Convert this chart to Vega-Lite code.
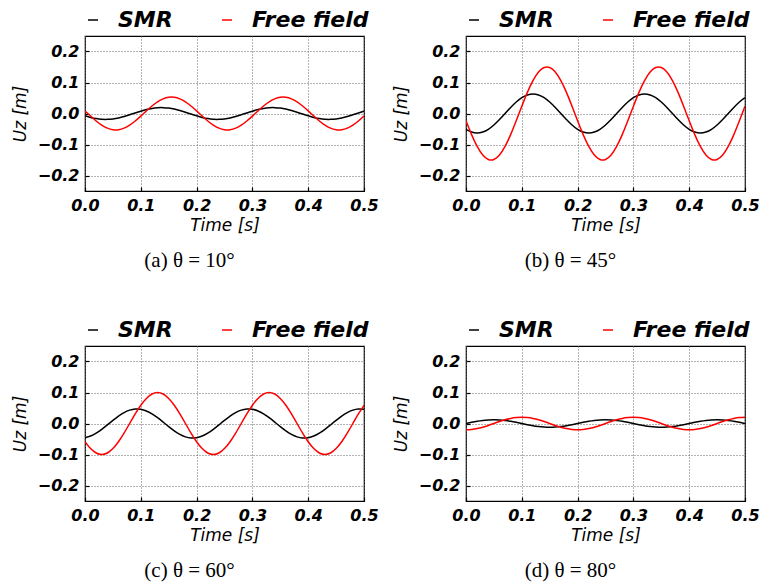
{
"$schema":"https://vega.github.io/schema/vega-lite/v6.json",
"padding":{"left":10,"top":8,"right":5,"bottom":5},
"background":"white",
"datasets":{
"a":[
{"t":0,"SMR":-0.0075,"Free field":0.0083},{"t":0.01,"SMR":-0.0126,"Free field":-0.0083},{"t":0.02,"SMR":-0.0164,"Free field":-0.0241},{"t":0.03,"SMR":-0.0185,"Free field":-0.0375},{"t":0.04,"SMR":-0.0189,"Free field":-0.0472},{"t":0.05,"SMR":-0.0174,"Free field":-0.0524},{"t":0.06,"SMR":-0.0143,"Free field":-0.0524},{"t":0.07,"SMR":-0.0097,"Free field":-0.0472},{"t":0.08,"SMR":-0.0041,"Free field":-0.0375},{"t":0.09,"SMR":0.0018,"Free field":-0.0241},
{"t":0.1,"SMR":0.0075,"Free field":-0.0083},{"t":0.11,"SMR":0.0126,"Free field":0.0083},{"t":0.12,"SMR":0.0164,"Free field":0.0241},{"t":0.13,"SMR":0.0185,"Free field":0.0375},{"t":0.14,"SMR":0.0189,"Free field":0.0472},{"t":0.15,"SMR":0.0174,"Free field":0.0524},{"t":0.16,"SMR":0.0143,"Free field":0.0524},{"t":0.17,"SMR":0.0097,"Free field":0.0472},{"t":0.18,"SMR":0.0041,"Free field":0.0375},{"t":0.19,"SMR":-0.0018,"Free field":0.0241},
{"t":0.2,"SMR":-0.0075,"Free field":0.0083},{"t":0.21,"SMR":-0.0126,"Free field":-0.0083},{"t":0.22,"SMR":-0.0164,"Free field":-0.0241},{"t":0.23,"SMR":-0.0185,"Free field":-0.0375},{"t":0.24,"SMR":-0.0189,"Free field":-0.0472},{"t":0.25,"SMR":-0.0174,"Free field":-0.0524},{"t":0.26,"SMR":-0.0143,"Free field":-0.0524},{"t":0.27,"SMR":-0.0097,"Free field":-0.0472},{"t":0.28,"SMR":-0.0041,"Free field":-0.0375},{"t":0.29,"SMR":0.0018,"Free field":-0.0241},
{"t":0.3,"SMR":0.0075,"Free field":-0.0083},{"t":0.31,"SMR":0.0126,"Free field":0.0083},{"t":0.32,"SMR":0.0164,"Free field":0.0241},{"t":0.33,"SMR":0.0185,"Free field":0.0375},{"t":0.34,"SMR":0.0189,"Free field":0.0472},{"t":0.35,"SMR":0.0174,"Free field":0.0524},{"t":0.36,"SMR":0.0143,"Free field":0.0524},{"t":0.37,"SMR":0.0097,"Free field":0.0472},{"t":0.38,"SMR":0.0041,"Free field":0.0375},{"t":0.39,"SMR":-0.0018,"Free field":0.0241},
{"t":0.4,"SMR":-0.0075,"Free field":0.0083},{"t":0.41,"SMR":-0.0126,"Free field":-0.0083},{"t":0.42,"SMR":-0.0164,"Free field":-0.0241},{"t":0.43,"SMR":-0.0185,"Free field":-0.0375},{"t":0.44,"SMR":-0.0189,"Free field":-0.0472},{"t":0.45,"SMR":-0.0174,"Free field":-0.0524},{"t":0.46,"SMR":-0.0143,"Free field":-0.0524},{"t":0.47,"SMR":-0.0097,"Free field":-0.0472},{"t":0.48,"SMR":-0.0041,"Free field":-0.0375},{"t":0.49,"SMR":0.0018,"Free field":-0.0241},
{"t":0.5,"SMR":0.0075,"Free field":-0.0083}
],
"b":[
{"t":0,"SMR":-0.051,"Free field":-0.0234},{"t":0.01,"SMR":-0.0599,"Free field":-0.0681},{"t":0.02,"SMR":-0.063,"Free field":-0.1061},{"t":0.03,"SMR":-0.0599,"Free field":-0.1337},{"t":0.04,"SMR":-0.051,"Free field":-0.1482},{"t":0.05,"SMR":-0.037,"Free field":-0.1482},{"t":0.06,"SMR":-0.0195,"Free field":-0.1337},{"t":0.07,"SMR":0,"Free field":-0.1061},{"t":0.08,"SMR":0.0195,"Free field":-0.0681},{"t":0.09,"SMR":0.037,"Free field":-0.0234},
{"t":0.1,"SMR":0.051,"Free field":0.0234},{"t":0.11,"SMR":0.0599,"Free field":0.0681},{"t":0.12,"SMR":0.063,"Free field":0.1061},{"t":0.13,"SMR":0.0599,"Free field":0.1337},{"t":0.14,"SMR":0.051,"Free field":0.1482},{"t":0.15,"SMR":0.037,"Free field":0.1482},{"t":0.16,"SMR":0.0195,"Free field":0.1337},{"t":0.17,"SMR":0,"Free field":0.1061},{"t":0.18,"SMR":-0.0195,"Free field":0.0681},{"t":0.19,"SMR":-0.037,"Free field":0.0234},
{"t":0.2,"SMR":-0.051,"Free field":-0.0234},{"t":0.21,"SMR":-0.0599,"Free field":-0.0681},{"t":0.22,"SMR":-0.063,"Free field":-0.1061},{"t":0.23,"SMR":-0.0599,"Free field":-0.1337},{"t":0.24,"SMR":-0.051,"Free field":-0.1482},{"t":0.25,"SMR":-0.037,"Free field":-0.1482},{"t":0.26,"SMR":-0.0195,"Free field":-0.1337},{"t":0.27,"SMR":0,"Free field":-0.1061},{"t":0.28,"SMR":0.0195,"Free field":-0.0681},{"t":0.29,"SMR":0.037,"Free field":-0.0234},
{"t":0.3,"SMR":0.051,"Free field":0.0234},{"t":0.31,"SMR":0.0599,"Free field":0.0681},{"t":0.32,"SMR":0.063,"Free field":0.1061},{"t":0.33,"SMR":0.0599,"Free field":0.1337},{"t":0.34,"SMR":0.051,"Free field":0.1482},{"t":0.35,"SMR":0.037,"Free field":0.1482},{"t":0.36,"SMR":0.0195,"Free field":0.1337},{"t":0.37,"SMR":0,"Free field":0.1061},{"t":0.38,"SMR":-0.0195,"Free field":0.0681},{"t":0.39,"SMR":-0.037,"Free field":0.0234},
{"t":0.4,"SMR":-0.051,"Free field":-0.0234},{"t":0.41,"SMR":-0.0599,"Free field":-0.0681},{"t":0.42,"SMR":-0.063,"Free field":-0.1061},{"t":0.43,"SMR":-0.0599,"Free field":-0.1337},{"t":0.44,"SMR":-0.051,"Free field":-0.1482},{"t":0.45,"SMR":-0.037,"Free field":-0.1482},{"t":0.46,"SMR":-0.0195,"Free field":-0.1337},{"t":0.47,"SMR":0,"Free field":-0.1061},{"t":0.48,"SMR":0.0195,"Free field":-0.0681},{"t":0.49,"SMR":0.037,"Free field":-0.0234},
{"t":0.5,"SMR":0.051,"Free field":0.0234}
],
"c":[
{"t":0,"SMR":-0.0459,"Free field":-0.0588},{"t":0.01,"SMR":-0.0405,"Free field":-0.0809},{"t":0.02,"SMR":-0.0311,"Free field":-0.0951},{"t":0.03,"SMR":-0.0187,"Free field":-0.1},{"t":0.04,"SMR":-0.0044,"Free field":-0.0951},{"t":0.05,"SMR":0.0102,"Free field":-0.0809},{"t":0.06,"SMR":0.0239,"Free field":-0.0588},{"t":0.07,"SMR":0.0353,"Free field":-0.0309},{"t":0.08,"SMR":0.0431,"Free field":0},{"t":0.09,"SMR":0.0468,"Free field":0.0309},
{"t":0.1,"SMR":0.0459,"Free field":0.0588},{"t":0.11,"SMR":0.0405,"Free field":0.0809},{"t":0.12,"SMR":0.0311,"Free field":0.0951},{"t":0.13,"SMR":0.0187,"Free field":0.1},{"t":0.14,"SMR":0.0044,"Free field":0.0951},{"t":0.15,"SMR":-0.0102,"Free field":0.0809},{"t":0.16,"SMR":-0.0239,"Free field":0.0588},{"t":0.17,"SMR":-0.0353,"Free field":0.0309},{"t":0.18,"SMR":-0.0431,"Free field":0},{"t":0.19,"SMR":-0.0468,"Free field":-0.0309},
{"t":0.2,"SMR":-0.0459,"Free field":-0.0588},{"t":0.21,"SMR":-0.0405,"Free field":-0.0809},{"t":0.22,"SMR":-0.0311,"Free field":-0.0951},{"t":0.23,"SMR":-0.0187,"Free field":-0.1},{"t":0.24,"SMR":-0.0044,"Free field":-0.0951},{"t":0.25,"SMR":0.0102,"Free field":-0.0809},{"t":0.26,"SMR":0.0239,"Free field":-0.0588},{"t":0.27,"SMR":0.0353,"Free field":-0.0309},{"t":0.28,"SMR":0.0431,"Free field":0},{"t":0.29,"SMR":0.0468,"Free field":0.0309},
{"t":0.3,"SMR":0.0459,"Free field":0.0588},{"t":0.31,"SMR":0.0405,"Free field":0.0809},{"t":0.32,"SMR":0.0311,"Free field":0.0951},{"t":0.33,"SMR":0.0187,"Free field":0.1},{"t":0.34,"SMR":0.0044,"Free field":0.0951},{"t":0.35,"SMR":-0.0102,"Free field":0.0809},{"t":0.36,"SMR":-0.0239,"Free field":0.0588},{"t":0.37,"SMR":-0.0353,"Free field":0.0309},{"t":0.38,"SMR":-0.0431,"Free field":0},{"t":0.39,"SMR":-0.0468,"Free field":-0.0309},
{"t":0.4,"SMR":-0.0459,"Free field":-0.0588},{"t":0.41,"SMR":-0.0405,"Free field":-0.0809},{"t":0.42,"SMR":-0.0311,"Free field":-0.0951},{"t":0.43,"SMR":-0.0187,"Free field":-0.1},{"t":0.44,"SMR":-0.0044,"Free field":-0.0951},{"t":0.45,"SMR":0.0102,"Free field":-0.0809},{"t":0.46,"SMR":0.0239,"Free field":-0.0588},{"t":0.47,"SMR":0.0353,"Free field":-0.0309},{"t":0.48,"SMR":0.0431,"Free field":0},{"t":0.49,"SMR":0.0468,"Free field":0.0309},
{"t":0.5,"SMR":0.0459,"Free field":0.0588}
],
"d":[
{"t":0,"SMR":0,"Free field":-0.02},{"t":0.01,"SMR":0.0037,"Free field":-0.019},{"t":0.02,"SMR":0.0071,"Free field":-0.0162},{"t":0.03,"SMR":0.0097,"Free field":-0.0118},{"t":0.04,"SMR":0.0114,"Free field":-0.0062},{"t":0.05,"SMR":0.012,"Free field":0},{"t":0.06,"SMR":0.0114,"Free field":0.0062},{"t":0.07,"SMR":0.0097,"Free field":0.0118},{"t":0.08,"SMR":0.0071,"Free field":0.0162},{"t":0.09,"SMR":0.0037,"Free field":0.019},
{"t":0.1,"SMR":0,"Free field":0.02},{"t":0.11,"SMR":-0.0037,"Free field":0.019},{"t":0.12,"SMR":-0.0071,"Free field":0.0162},{"t":0.13,"SMR":-0.0097,"Free field":0.0118},{"t":0.14,"SMR":-0.0114,"Free field":0.0062},{"t":0.15,"SMR":-0.012,"Free field":0},{"t":0.16,"SMR":-0.0114,"Free field":-0.0062},{"t":0.17,"SMR":-0.0097,"Free field":-0.0118},{"t":0.18,"SMR":-0.0071,"Free field":-0.0162},{"t":0.19,"SMR":-0.0037,"Free field":-0.019},
{"t":0.2,"SMR":0,"Free field":-0.02},{"t":0.21,"SMR":0.0037,"Free field":-0.019},{"t":0.22,"SMR":0.0071,"Free field":-0.0162},{"t":0.23,"SMR":0.0097,"Free field":-0.0118},{"t":0.24,"SMR":0.0114,"Free field":-0.0062},{"t":0.25,"SMR":0.012,"Free field":0},{"t":0.26,"SMR":0.0114,"Free field":0.0062},{"t":0.27,"SMR":0.0097,"Free field":0.0118},{"t":0.28,"SMR":0.0071,"Free field":0.0162},{"t":0.29,"SMR":0.0037,"Free field":0.019},
{"t":0.3,"SMR":0,"Free field":0.02},{"t":0.31,"SMR":-0.0037,"Free field":0.019},{"t":0.32,"SMR":-0.0071,"Free field":0.0162},{"t":0.33,"SMR":-0.0097,"Free field":0.0118},{"t":0.34,"SMR":-0.0114,"Free field":0.0062},{"t":0.35,"SMR":-0.012,"Free field":0},{"t":0.36,"SMR":-0.0114,"Free field":-0.0062},{"t":0.37,"SMR":-0.0097,"Free field":-0.0118},{"t":0.38,"SMR":-0.0071,"Free field":-0.0162},{"t":0.39,"SMR":-0.0037,"Free field":-0.019},
{"t":0.4,"SMR":0,"Free field":-0.02},{"t":0.41,"SMR":0.0037,"Free field":-0.019},{"t":0.42,"SMR":0.0071,"Free field":-0.0162},{"t":0.43,"SMR":0.0097,"Free field":-0.0118},{"t":0.44,"SMR":0.0114,"Free field":-0.0062},{"t":0.45,"SMR":0.012,"Free field":0},{"t":0.46,"SMR":0.0114,"Free field":0.0062},{"t":0.47,"SMR":0.0097,"Free field":0.0118},{"t":0.48,"SMR":0.0071,"Free field":0.0162},{"t":0.49,"SMR":0.0037,"Free field":0.019},
{"t":0.5,"SMR":0,"Free field":0.02}
]
},
"columns":2,
"spacing":{"row":155,"column":102},
"bounds":"flush",
"resolve":{"scale":{"color":"independent"},"legend":{"color":"independent"}},
"concat":[
{"width":279,"height":155,"data":{"name":"a"},
 "transform":[{"fold":["SMR","Free field"],"as":["series","uz"]}],
 "title":{"text":"(a)  θ   =   10°"},
 "mark":{"type":"line","strokeWidth":1.5,"interpolate":"natural","clip":true},
 "encoding":{
  "x":{"field":"t","type":"quantitative","scale":{"domain":[0,0.5],"nice":false,"zero":false},"axis":{"title":"Time [s]","values":[0,0.1,0.2,0.3,0.4,0.5],"format":".1f"}},
  "y":{"field":"uz","type":"quantitative","scale":{"domain":[-0.25,0.25],"nice":false},"axis":{"title":"Uz [m]","values":[-0.2,-0.1,0,0.1,0.2],"format":".1f"}},
  "color":{"field":"series","type":"nominal","scale":{"domain":["SMR","Free field"],"range":["#000000","#ff0000"]},"legend":{"title":null}}
 }},
{"width":279,"height":155,"data":{"name":"b"},
 "transform":[{"fold":["SMR","Free field"],"as":["series","uz"]}],
 "title":{"text":"(b)  θ   =   45°"},
 "mark":{"type":"line","strokeWidth":1.5,"interpolate":"natural","clip":true},
 "encoding":{
  "x":{"field":"t","type":"quantitative","scale":{"domain":[0,0.5],"nice":false,"zero":false},"axis":{"title":"Time [s]","values":[0,0.1,0.2,0.3,0.4,0.5],"format":".1f"}},
  "y":{"field":"uz","type":"quantitative","scale":{"domain":[-0.25,0.25],"nice":false},"axis":{"title":"Uz [m]","values":[-0.2,-0.1,0,0.1,0.2],"format":".1f"}},
  "color":{"field":"series","type":"nominal","scale":{"domain":["SMR","Free field"],"range":["#000000","#ff0000"]},"legend":{"title":null}}
 }},
{"width":279,"height":155,"data":{"name":"c"},
 "transform":[{"fold":["SMR","Free field"],"as":["series","uz"]}],
 "title":{"text":"(c)  θ   =   60°"},
 "mark":{"type":"line","strokeWidth":1.5,"interpolate":"natural","clip":true},
 "encoding":{
  "x":{"field":"t","type":"quantitative","scale":{"domain":[0,0.5],"nice":false,"zero":false},"axis":{"title":"Time [s]","values":[0,0.1,0.2,0.3,0.4,0.5],"format":".1f"}},
  "y":{"field":"uz","type":"quantitative","scale":{"domain":[-0.25,0.25],"nice":false},"axis":{"title":"Uz [m]","values":[-0.2,-0.1,0,0.1,0.2],"format":".1f"}},
  "color":{"field":"series","type":"nominal","scale":{"domain":["SMR","Free field"],"range":["#000000","#ff0000"]},"legend":{"title":null}}
 }},
{"width":279,"height":155,"data":{"name":"d"},
 "transform":[{"fold":["SMR","Free field"],"as":["series","uz"]}],
 "title":{"text":"(d)  θ   =   80°"},
 "mark":{"type":"line","strokeWidth":1.5,"interpolate":"natural","clip":true},
 "encoding":{
  "x":{"field":"t","type":"quantitative","scale":{"domain":[0,0.5],"nice":false,"zero":false},"axis":{"title":"Time [s]","values":[0,0.1,0.2,0.3,0.4,0.5],"format":".1f"}},
  "y":{"field":"uz","type":"quantitative","scale":{"domain":[-0.25,0.25],"nice":false},"axis":{"title":"Uz [m]","values":[-0.2,-0.1,0,0.1,0.2],"format":".1f"}},
  "color":{"field":"series","type":"nominal","scale":{"domain":["SMR","Free field"],"range":["#000000","#ff0000"]},"legend":{"title":null}}
 }}
],
"config":{
 "font":"DejaVu Sans",
 "view":{"stroke":"#000000","strokeWidth":1.2},
 "axis":{"labelFont":"DejaVu Sans","labelFontSize":16,"labelFontWeight":"bold","labelFontStyle":"italic","labelColor":"#000000","labelFlush":false,"labelOverlap":false,
  "titleFont":"DejaVu Sans","titleFontSize":17,"titleFontWeight":"normal","titleFontStyle":"italic","titleColor":"#000000",
  "domain":false,"grid":true,"gridColor":"#666666","gridDash":[1,2],"gridWidth":1,"gridOpacity":1,
  "ticks":true,"tickColor":"#000000","tickSize":-4,"tickWidth":1.2,"labelPadding":10},
 "axisX":{"titlePadding":4},
 "axisY":{"titlePadding":8},
 "legend":{"orient":"top","direction":"horizontal","labelFont":"DejaVu Sans","labelFontSize":22,"labelFontWeight":"bold","labelFontStyle":"italic","labelColor":"#000000",
  "symbolType":"stroke","symbolSize":100,"symbolStrokeWidth":1.5,"symbolOffset":-3,"labelOffset":14,"columnPadding":46,"offset":5,"padding":0},
 "title":{"font":"Liberation Serif","fontSize":21,"fontWeight":"normal","fontStyle":"normal","color":"#000000","orient":"bottom","offset":17,"dx":-35}
}
}
